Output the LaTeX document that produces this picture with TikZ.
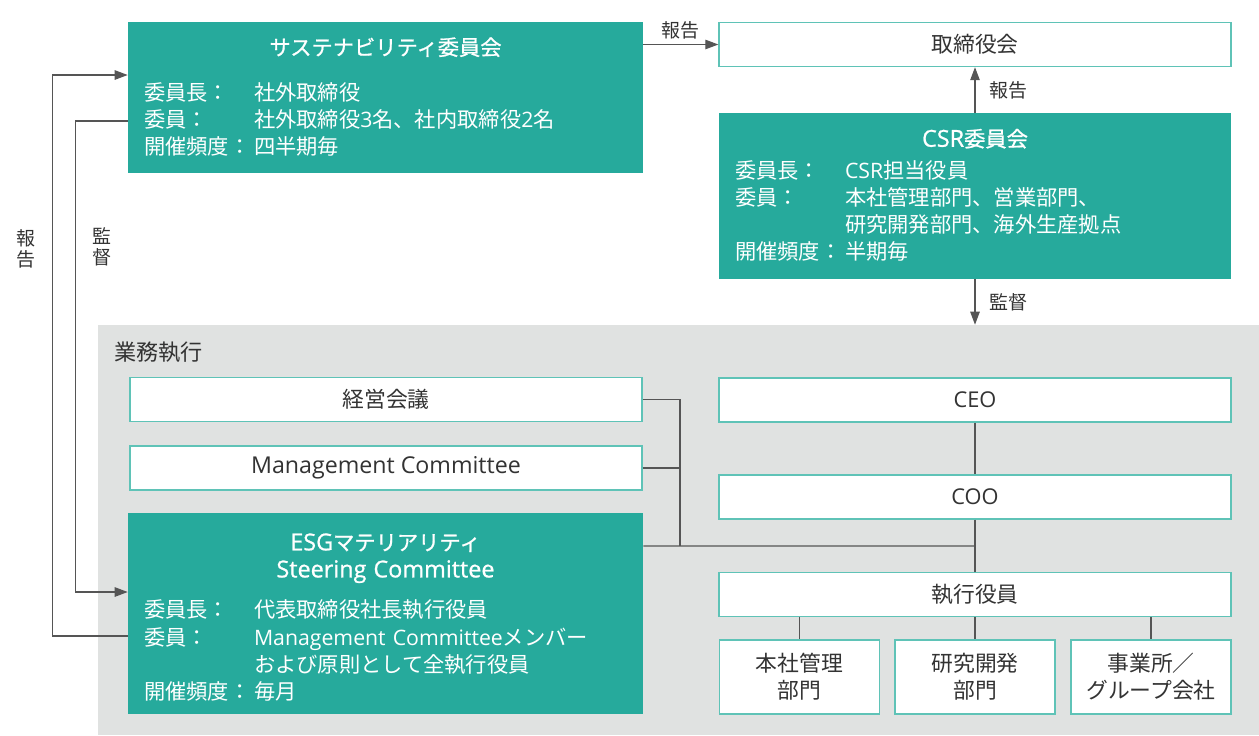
\documentclass[tikz,border=0pt]{standalone}
\usepackage{fontspec}
\setmainfont{Noto Sans CJK JP}
\newfontfamily\latin{Open Sans}
\newfontfamily\headfont[FakeBold=0.9]{Noto Sans CJK JP}
\newfontfamily\latinhead[FakeBold=0.9,Scale=1.1]{Open Sans}
\usepackage{tikz}
\usetikzlibrary{arrows.meta,positioning,calc}
\definecolor{boxteal}  {RGB}{38,170,156}
\definecolor{edgeteal} {RGB}{95,195,183}
\definecolor{areagray} {RGB}{224,226,225}
\definecolor{linegray} {RGB}{85,85,85}
\definecolor{textgray} {RGB}{51,51,51}
\newcommand{\bodysize}{\fontsize{12.1}{15.4}\selectfont}
\newcommand{\headsize}{\fontsize{12.1}{15.4}\selectfont}
\newcommand{\facts}[1]{\begin{tabular}[t]{@{}p{2.2cm}@{}l@{}}#1\end{tabular}}

\begin{document}
\begin{tikzpicture}[x=0.02cm, y=-0.02cm,
      font=\bodysize, >={Triangle[length=0.26cm,width=0.19cm]},
      teambox/.style={rectangle, fill=boxteal, text=white,
        inner xsep=0.32cm, inner ysep=0pt, align=left},
      plainbox/.style={rectangle, draw=edgeteal, fill=white, line width=0.8pt,
        text=textgray, minimum width=10.24cm, minimum height=0.88cm,
        font=\fontsize{12.4}{15.4}\selectfont},
      unitbox/.style={plainbox, minimum width=3.2cm, minimum height=1.48cm, align=center},
      arr/.style={->, line width=0.6pt, color=linegray},
      link/.style={line width=0.6pt, color=linegray},
      tag/.style={text=textgray, inner sep=1pt, font=\fontsize{10.8}{12}\selectfont},
    ]
    \useasboundingbox (0,0) rectangle (1259,735);

    % ── EXECUTION AREA ──────────────────────────────────────────
    \node[fill=areagray, inner sep=0pt, minimum width=23.22cm, minimum height=8.2cm] (exec) at (678.5,530) {};
    \node[text=textgray, anchor=west, inner sep=0pt, font=\fontsize{12.6}{14}\selectfont] (exectag) at (114,352) {業務執行};

    % ── SUPERVISION LAYER ───────────────────────────────────────
    \node[teambox, text width=9.66cm, minimum height=3.02cm] (sust) at (385.5,97.5)
      {\makebox[\linewidth]{\rule{0pt}{13pt}\headsize\headfont サステナビリティ委員会}\\[0.36cm]
       \facts{委員長： & 社外取締役\\
              委員：   & 社外取締役{\latin 3}名、社内取締役{\latin 2}名\\
              開催頻度： & 四半期毎}};

    \node[plainbox] (board) at (975,44.5) {取締役会};

    \node[teambox, text width=9.6cm, minimum height=3.32cm] (csr) at (975,196)
      {\makebox[\linewidth]{\rule{0pt}{13pt}\headsize{\latinhead CSR}\headfont 委員会}\\[0.1cm]
       \facts{委員長： & {\latin CSR}担当役員\\
              委員：   & 本社管理部門、営業部門、\\
                       & 研究開発部門、海外生産拠点\\
              開催頻度： & 半期毎}};

    \draw[arr] (sust.east |- board.west) -- node[tag, above=2pt]{報告} (board.west);
    \draw[arr] (csr.north) -- node[tag, right=0.25cm]{報告} (board.south);
    \draw[arr] (csr.south) -- node[tag, right=0.25cm]{監督} (csr.south |- exec.north);

    % ── MANAGEMENT BODIES ───────────────────────────────────────
    \node[plainbox] (mtg) at (386,399.5) {経営会議};
    \node[plainbox, font=\fontsize{13.2}{15.4}\selectfont] (mc) at (386,468) {\latin Management Committee};

    \node[teambox, text width=9.66cm, minimum height=4.02cm] (esg) at (385.5,613.5)
      {\makebox[\linewidth]{\rule{0pt}{17.4pt}\headsize{\latinhead ESG}\headfont マテリアリティ}\\
       \makebox[\linewidth]{\headsize\latinhead Steering Committee}\\[0.27cm]
       \facts{委員長： & 代表取締役社長執行役員\\
              委員：   & {\latin Management Committee}メンバー\\
                       & および原則として全執行役員\\
              開催頻度： & 毎月}};

    \draw[arr] ([yshift=-0.45cm]esg.west) -- ++(-75,0)
      |- node[tag, pos=0.345, left=0.3cm, align=center]{報\\告} ([yshift=0.45cm]sust.west);
    \draw[arr] ([yshift=-0.47cm]sust.west) -- ++(-52,0)
      |- node[tag, pos=0.134, right=0.3cm, align=center]{監\\督} ([yshift=0.43cm]esg.west);

    % ── LINE ORGANISATION ───────────────────────────────────────
    \node[plainbox] (ceo)     at (975,400)   {\latin CEO};
    \node[plainbox] (coo)     at (975,497)   {\latin COO};
    \node[plainbox] (officer) at (975,594.5) {執行役員};

    \node[unitbox] (hq)  at (799.5,677) {本社管理\\部門};
    \node[unitbox] (rnd) at (975,677)   {研究開発\\部門};
    \node[unitbox] (biz) at (1151,677)  {事業所／\\グループ会社};

    \coordinate (bend) at (680,546);
    \coordinate (hub)  at (975,546);

    \draw[link] (ceo) -- (coo);
    \draw[link] (coo) -- (officer);
    \draw[link] (mtg.east) -| (bend);
    \draw[link] (mc.east) -- (mc.east -| bend);
    \draw[link] ([yshift=1.35cm]esg.east) -- (hub);
    \draw[link] (officer.south -| hq) -- (hq);
    \draw[link] (officer.south -| rnd) -- (rnd);
    \draw[link] (officer.south -| biz) -- (biz);

\end{tikzpicture}
\end{document}
